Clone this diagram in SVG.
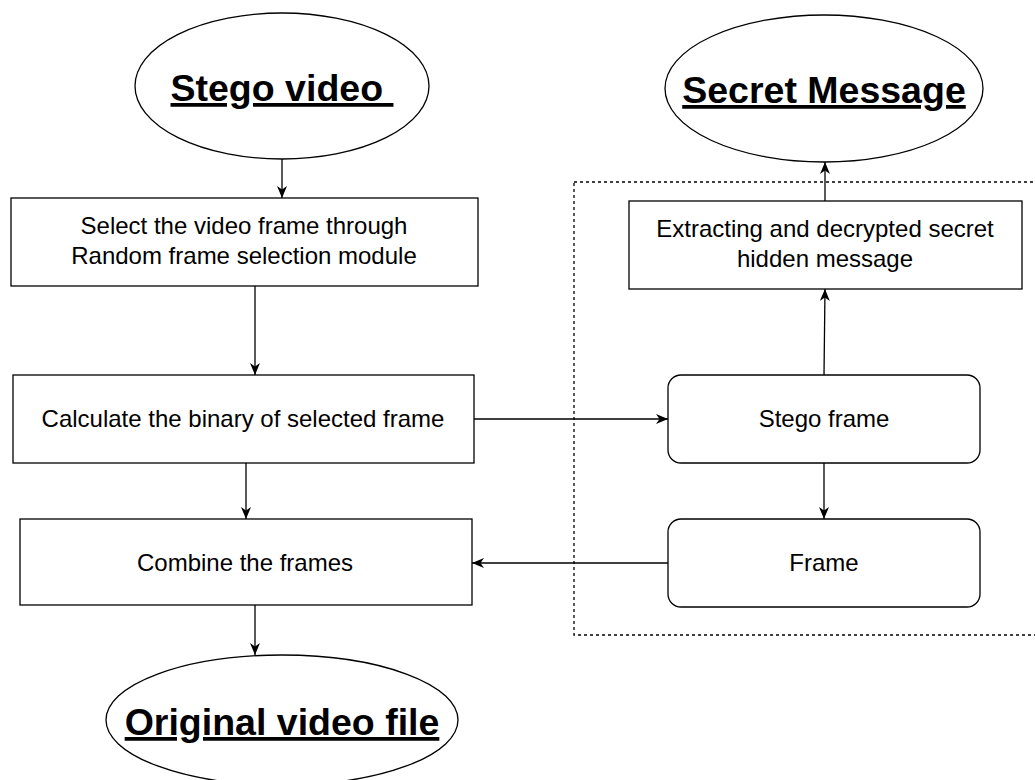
<svg xmlns="http://www.w3.org/2000/svg" width="1035" height="780" viewBox="0 0 1035 780">
<style>
.shape{fill:#fff;stroke:#000;stroke-width:1.3}
.lbl{font-family:"Liberation Sans",Arial,sans-serif;font-size:24px;fill:#000;text-anchor:middle}
.title{font-family:"Liberation Sans",Arial,sans-serif;font-size:37.5px;font-weight:bold;fill:#000;text-anchor:middle;text-decoration:underline}
.conn{fill:none;stroke:#000;stroke-width:1.3}
</style>
<defs>
<marker id="arr" viewBox="0 0 12 10" refX="12" refY="5" markerWidth="12" markerHeight="10" markerUnits="userSpaceOnUse" orient="auto">
<path d="M0,0 L12,5 L0,10 L3.5,5 z" fill="#000"/>
</marker>
</defs>
<rect width="1035" height="780" fill="#fff"/>
<rect id="group-box" x="574" y="182" width="470" height="453" fill="none" stroke="#000" stroke-width="1.3" stroke-dasharray="3,3"/>
<g id="stego-video">
<ellipse class="shape" cx="282" cy="86" rx="147" ry="73"/>
<text class="title" x="282" y="101" xml:space="preserve">Stego video </text>
</g>
<g id="secret-message">
<ellipse class="shape" cx="824" cy="88.5" rx="159" ry="73.5"/>
<text class="title" x="824" y="103">Secret Message</text>
</g>
<g id="select-frame">
<rect class="shape" x="11" y="198" width="467" height="88"/>
<text class="lbl" x="244" y="234">Select the video frame through</text>
<text class="lbl" x="244" y="264">Random frame selection module</text>
</g>
<g id="calculate-binary">
<rect class="shape" x="13" y="375" width="461" height="88"/>
<text class="lbl" x="243" y="427">Calculate the binary of selected frame</text>
</g>
<g id="combine-frames">
<rect class="shape" x="20" y="519" width="452" height="86"/>
<text class="lbl" x="245" y="571">Combine the frames</text>
</g>
<g id="original-video">
<ellipse class="shape" cx="282" cy="720" rx="176" ry="65"/>
<text class="title" x="282" y="735">Original video file</text>
</g>
<g id="extracting">
<rect class="shape" x="629" y="201" width="393" height="88"/>
<text class="lbl" x="825" y="237">Extracting and decrypted secret</text>
<text class="lbl" x="825" y="267">hidden message</text>
</g>
<g id="stego-frame">
<rect class="shape" x="668" y="375" width="312" height="88" rx="13" ry="13"/>
<text class="lbl" x="824" y="427">Stego frame</text>
</g>
<g id="frame">
<rect class="shape" x="668" y="519" width="312" height="88" rx="13" ry="13"/>
<text class="lbl" x="824" y="571">Frame</text>
</g>
<g id="connectors">
<line class="conn" x1="282" y1="159" x2="282" y2="198" marker-end="url(#arr)"/>
<line class="conn" x1="255" y1="286" x2="255" y2="375" marker-end="url(#arr)"/>
<line class="conn" x1="246" y1="463" x2="246" y2="519" marker-end="url(#arr)"/>
<line class="conn" x1="255" y1="605" x2="255" y2="655" marker-end="url(#arr)"/>
<line class="conn" x1="474" y1="419" x2="668" y2="419" marker-end="url(#arr)"/>
<line class="conn" x1="824" y1="375" x2="825" y2="289" marker-end="url(#arr)"/>
<line class="conn" x1="825" y1="201" x2="825" y2="162" marker-end="url(#arr)"/>
<line class="conn" x1="824" y1="463" x2="824" y2="519" marker-end="url(#arr)"/>
<line class="conn" x1="668" y1="563" x2="472" y2="563" marker-end="url(#arr)"/>
</g>
</svg>
